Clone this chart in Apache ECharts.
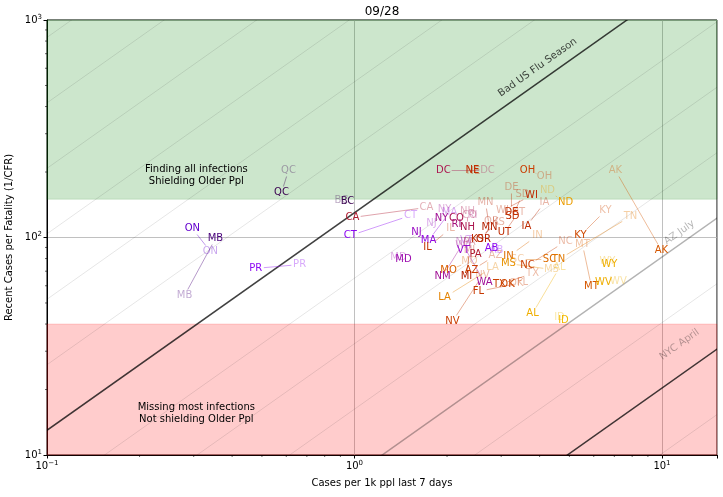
<!DOCTYPE html>
<html>
<head>
<meta charset="utf-8">
<script src="https://cdn.jsdelivr.net/npm/echarts@6/dist/echarts.min.js"></script>
<style>
  html, body { margin: 0; padding: 0; background: #fff; }
  #main { width: 723px; height: 497px; }
</style>
</head>
<body>
<div id="main"></div>
<script>
// state / province codes, this week and last week
const codes = ['QC', 'BC', 'ON', 'MB', 'PR', 'CA', 'CT', 'NJ', 'MA', 'IL', 'MD', 'NY', 'DC', 'NE', 'CO', 'RI', 'NH', 'MN', 'UT', 'OH',
  'WI', 'DE', 'SD', 'ND', 'IA', 'KY', 'TN', 'AK', 'IN', 'NC', 'MT', 'SC', 'MS', 'AL', 'TX', 'OK', 'FL', 'WY', 'WV', 'ID',
  'LA', 'NV', 'NM', 'MO', 'AZ', 'MI', 'VT', 'PA', 'AB', 'OR', 'KS', 'WA'];
const curX = [0.579, 0.949, 0.297, 0.353, 0.477, 0.985, 0.970, 1.591, 1.741, 1.727, 1.443, 1.919, 1.947, 2.420, 2.146, 2.146, 2.331, 2.748, 3.074, 3.653,
  3.764, 3.240, 3.264, 4.856, 3.626, 5.433, 4.607, 9.963, 3.168, 3.653, 5.897, 4.307, 3.168, 3.793, 2.961, 3.145, 2.531, 6.749, 6.450, 4.783,
  1.962, 2.083, 1.933, 2.022, 2.402, 2.313, 2.262, 2.475, 2.790, 2.628, 2.512, 2.648];
const curY = [161.0, 146.4, 110.0, 98.9, 72.1, 123.6, 102.1, 105.4, 96.9, 89.9, 79.2, 122.3, 203.2, 203.2, 122.3, 114.7, 111.2, 111.2, 105.4, 203.2,
  156.0, 130.3, 124.9, 144.8, 112.3, 102.1, 79.2, 87.2, 81.8, 74.3, 59.5, 79.2, 75.9, 44.7, 60.8, 60.8, 56.5, 75.1, 62.1, 41.5,
  53.0, 41.1, 66.2, 70.5, 70.5, 66.2, 87.2, 83.5, 89.0, 97.9, 97.9, 62.1];
const prevX = [0.610, 0.907, 0.340, 0.280, 0.663, 1.714, 1.521, 1.780, 2.037, 2.052, 1.390, 1.962, 2.707, 2.438, 2.366, 2.420, 2.331, 2.667, 3.414, 4.149,
  3.029, 3.240, 3.518, 4.243, 4.149, 6.552, 7.901, 7.059, 3.936, 4.856, 5.514, 3.389, 4.372, 4.642, 3.793, 3.360, 3.518, 6.648, 7.219, 4.642,
  2.810, 2.608, 2.262, 2.366, 2.874, 2.366, 2.313, 2.366, 2.896, 2.790, 2.940, 2.260];
const prevY = [203.2, 147.9, 86.2, 54.1, 75.1, 137.4, 126.2, 116.0, 130.3, 110.0, 80.9, 134.5, 203.2, 201.1, 126.2, 126.2, 131.7, 144.8, 130.3, 190.8,
  133.1, 169.8, 157.6, 164.5, 144.8, 133.1, 124.9, 203.2, 102.1, 95.9, 92.9, 79.2, 71.3, 72.8, 68.3, 61.5, 62.1, 77.5, 62.8, 42.9,
  72.8, 66.9, 94.9, 77.5, 82.7, 87.2, 96.9, 94.9, 87.2, 118.5, 117.2, 92.0];
// position on the gnuplot colour map
const shade = [0.05, 0.05, 0.15, 0.08, 0.30, 0.47, 0.30, 0.36, 0.33, 0.58, 0.38, 0.40, 0.45, 0.57, 0.45, 0.42, 0.45, 0.50, 0.55, 0.62,
  0.55, 0.57, 0.56, 0.85, 0.55, 0.66, 0.78, 0.70, 0.75, 0.62, 0.70, 0.75, 0.83, 0.88, 0.63, 0.65, 0.60, 0.88, 0.88, 0.90,
  0.80, 0.62, 0.40, 0.72, 0.62, 0.50, 0.35, 0.47, 0.30, 0.50, 0.55, 0.40];

// cases-per-fatality reference lines (y = k * x)
const FLU = 130;
const AZ_JULY = 8.125;
const NYC_APRIL = 2.03;
const guideRatios = [1.016, 2.03, 4.06, 8.125, 16.25, 32.5, 65, 130, 260, 520, 1040, 2080, 4160, 8320];
const guideNames = ['Bad US Flu Season', 'AZ July', 'NYC April'];
const guideLabelX = [3.94, 11.4, 11.4];
const guideLabelY = [605, 105.4, 32.2];

// zones
const goodZone = [150, 1000];
const badZone = [10, 40];
const noteText = ['Finding all infections\nShielding Older Ppl', 'Missing most infections\nNot shielding Older Ppl'];
const noteX = [0.306, 0.306];
const noteY = [193, 15.5];

const xMinorTicks = [0.2, 0.3, 0.4, 0.5, 0.6, 0.7, 0.8, 0.9, 2, 3, 4, 5, 6, 7, 8, 9];
const yMinorTicks = [20, 30, 40, 50, 60, 70, 80, 90, 200, 300, 400, 500, 600, 700, 800, 900];

const FONT = '10px "DejaVu Sans"';

function gnuplot (t, a) {
  const r = Math.round(255 * Math.sqrt(t));
  const g = Math.round(255 * t * t * t);
  const b = Math.round(255 * Math.max(0, Math.sin(2 * Math.PI * t)));
  return 'rgba(' + r + ',' + g + ',' + b + ',' + a + ')';
}

function powerLabel (v) {
  const l = Math.log10(v);
  const e = Math.round(l);
  if (Math.abs(l - e) > 1e-6) return '';
  return '10{sup|' + (e < 0 ? '\u2212' + (-e) : e) + '}';
}
const supRich = { sup: { fontSize: 7, padding: [0, 0, 6, 0], color: '#000' } };

const myChart = echarts.init(document.getElementById('main'));
const option = {
  animation: false,
  textStyle: { fontFamily: 'DejaVu Sans' },
  graphic: [{
    type: 'text', x: 382, y: 12,
    style: { text: '09/28', font: '12px "DejaVu Sans"', fill: '#000', align: 'center', verticalAlign: 'middle' }
  }],
  grid: { left: 47, right: 6, top: 20, bottom: 42, show: true, borderColor: '#000', borderWidth: 1, outerBoundsMode: 'none' },
  xAxis: {
    type: 'log', logBase: 10, min: 0.1, max: 15.1,
    name: 'Cases per 1k ppl last 7 days', nameLocation: 'middle', nameGap: 23,
    nameTextStyle: { fontSize: 10, color: '#000' },
    axisLine: { show: true, onZero: false, lineStyle: { color: '#000' } },
    axisTick: { length: 3.5, lineStyle: { color: '#000' } },
    axisLabel: { formatter: powerLabel, color: '#000', fontSize: 10, margin: 5, rich: supRich },
    splitLine: { show: true, lineStyle: { color: '#b0b0b0', width: 0.8 } }
  },
  yAxis: {
    type: 'log', logBase: 10, min: 10, max: 1000,
    name: 'Recent Cases per Fatality (1/CFR)', nameLocation: 'middle', nameGap: 31,
    nameTextStyle: { fontSize: 10, color: '#000' },
    axisLine: { show: true, onZero: false, lineStyle: { color: '#000' } },
    axisTick: { length: 3.5, lineStyle: { color: '#000' } },
    axisLabel: { formatter: powerLabel, color: '#000', fontSize: 10, margin: 5, rich: supRich },
    splitLine: { show: true, lineStyle: { color: '#b0b0b0', width: 0.8 } }
  },
  series: [
    {
      // zones + reference lines
      name: 'guides',
      type: 'custom',
      clip: true,
      data: guideRatios.map(k => [k]),
      renderItem: function (params, api) {
        const k = guideRatios[params.dataIndex];
        const p = api.coord([0.01, k * 0.01]);
        const q = api.coord([100, k * 100]);
        let stroke = 'rgba(0,0,0,0.1)';
        let w = 1;
        if (k === FLU || k === NYC_APRIL) { stroke = 'rgba(0,0,0,0.75)'; w = 1.5; }
        if (k === AZ_JULY) { stroke = 'rgba(0,0,0,0.3)'; w = 1.5; }
        return { type: 'line', shape: { x1: p[0], y1: p[1], x2: q[0], y2: q[1] }, style: { stroke: stroke, lineWidth: w } };
      },
      markArea: {
        silent: true,
        data: [
          [{ yAxis: goodZone[0], itemStyle: { color: 'rgba(0,128,0,0.2)', borderColor: 'rgba(0,128,0,0.15)', borderWidth: 1 } }, { yAxis: goodZone[1] }],
          [{ yAxis: badZone[0], itemStyle: { color: 'rgba(255,0,0,0.2)', borderColor: 'rgba(255,0,0,0.15)', borderWidth: 1 } }, { yAxis: badZone[1] }]
        ]
      }
    },
    {
      name: 'guideLabels',
      type: 'custom',
      data: guideNames.map((n, i) => [guideLabelX[i], guideLabelY[i]]),
      renderItem: function (params, api) {
        const i = params.dataIndex;
        const p = api.coord([guideLabelX[i], guideLabelY[i]]);
        return {
          type: 'text', x: p[0], y: p[1], rotation: Math.atan(217.5 / 307.5),
          style: { text: guideNames[i], font: FONT, fill: i === 0 ? 'rgba(0,0,0,0.75)' : 'rgba(0,0,0,0.3)', align: 'center', verticalAlign: 'middle' }
        };
      }
    },
    {
      name: 'notes',
      type: 'custom',
      data: noteText.map((n, i) => [noteX[i], noteY[i]]),
      renderItem: function (params, api) {
        const i = params.dataIndex;
        const p = api.coord([noteX[i], noteY[i]]);
        return {
          type: 'text', x: p[0], y: p[1],
          style: { text: noteText[i], font: FONT, lineHeight: 12, fill: '#000', align: 'center', verticalAlign: 'middle' }
        };
      }
    },
    {
      // minor ticks at 2..9 per decade
      name: 'xMinor',
      type: 'custom',
      clip: false,
      data: xMinorTicks.map(v => [v]),
      renderItem: function (params, api) {
        const p = api.coord([xMinorTicks[params.dataIndex], 10]);
        return { type: 'line', shape: { x1: p[0], y1: p[1], x2: p[0], y2: p[1] + 2 }, style: { stroke: '#000', lineWidth: 0.6 } };
      }
    },
    {
      name: 'yMinor',
      type: 'custom',
      clip: false,
      data: yMinorTicks.map(v => [v]),
      renderItem: function (params, api) {
        const p = api.coord([0.1, yMinorTicks[params.dataIndex]]);
        return { type: 'line', shape: { x1: p[0], y1: p[1], x2: p[0] - 2, y2: p[1] }, style: { stroke: '#000', lineWidth: 0.6 } };
      }
    },
    {
      // last week's position and the trail to this week
      name: 'trails',
      type: 'custom',
      data: codes.map((c, i) => [curX[i], curY[i], prevX[i], prevY[i]]),
      renderItem: function (params, api) {
        const i = params.dataIndex;
        const a = api.coord([prevX[i], prevY[i]]);
        const b = api.coord([curX[i], curY[i]]);
        const dx = b[0] - a[0];
        const dy = b[1] - a[1];
        const hw = codes[i].length * 3.6 + 1;
        const hh = 6;
        const t = Math.min(Math.abs(dx) > 0 ? hw / Math.abs(dx) : Infinity, Math.abs(dy) > 0 ? hh / Math.abs(dy) : Infinity);
        const children = [{
          type: 'text', x: a[0], y: a[1],
          style: { text: codes[i], font: FONT, fill: gnuplot(shade[i], 0.35), align: 'center', verticalAlign: 'middle' }
        }];
        if (t < 0.5) {
          children.push({
            type: 'line',
            shape: { x1: a[0] + dx * t, y1: a[1] + dy * t, x2: b[0] - dx * t, y2: b[1] - dy * t },
            style: { stroke: gnuplot(shade[i], 0.4), lineWidth: 1 }
          });
        }
        return { type: 'group', children: children };
      }
    },
    {
      name: 'current',
      type: 'custom',
      data: codes.map((c, i) => [curX[i], curY[i]]),
      renderItem: function (params, api) {
        const i = params.dataIndex;
        const p = api.coord([curX[i], curY[i]]);
        return {
          type: 'text', x: p[0], y: p[1],
          style: { text: codes[i], font: FONT, fill: gnuplot(shade[i], 1), align: 'center', verticalAlign: 'middle' }
        };
      }
    }
  ]
};
myChart.setOption(option);
window.addEventListener('resize', function () {
  myChart.resize();
});
</script>
</body>
</html>
